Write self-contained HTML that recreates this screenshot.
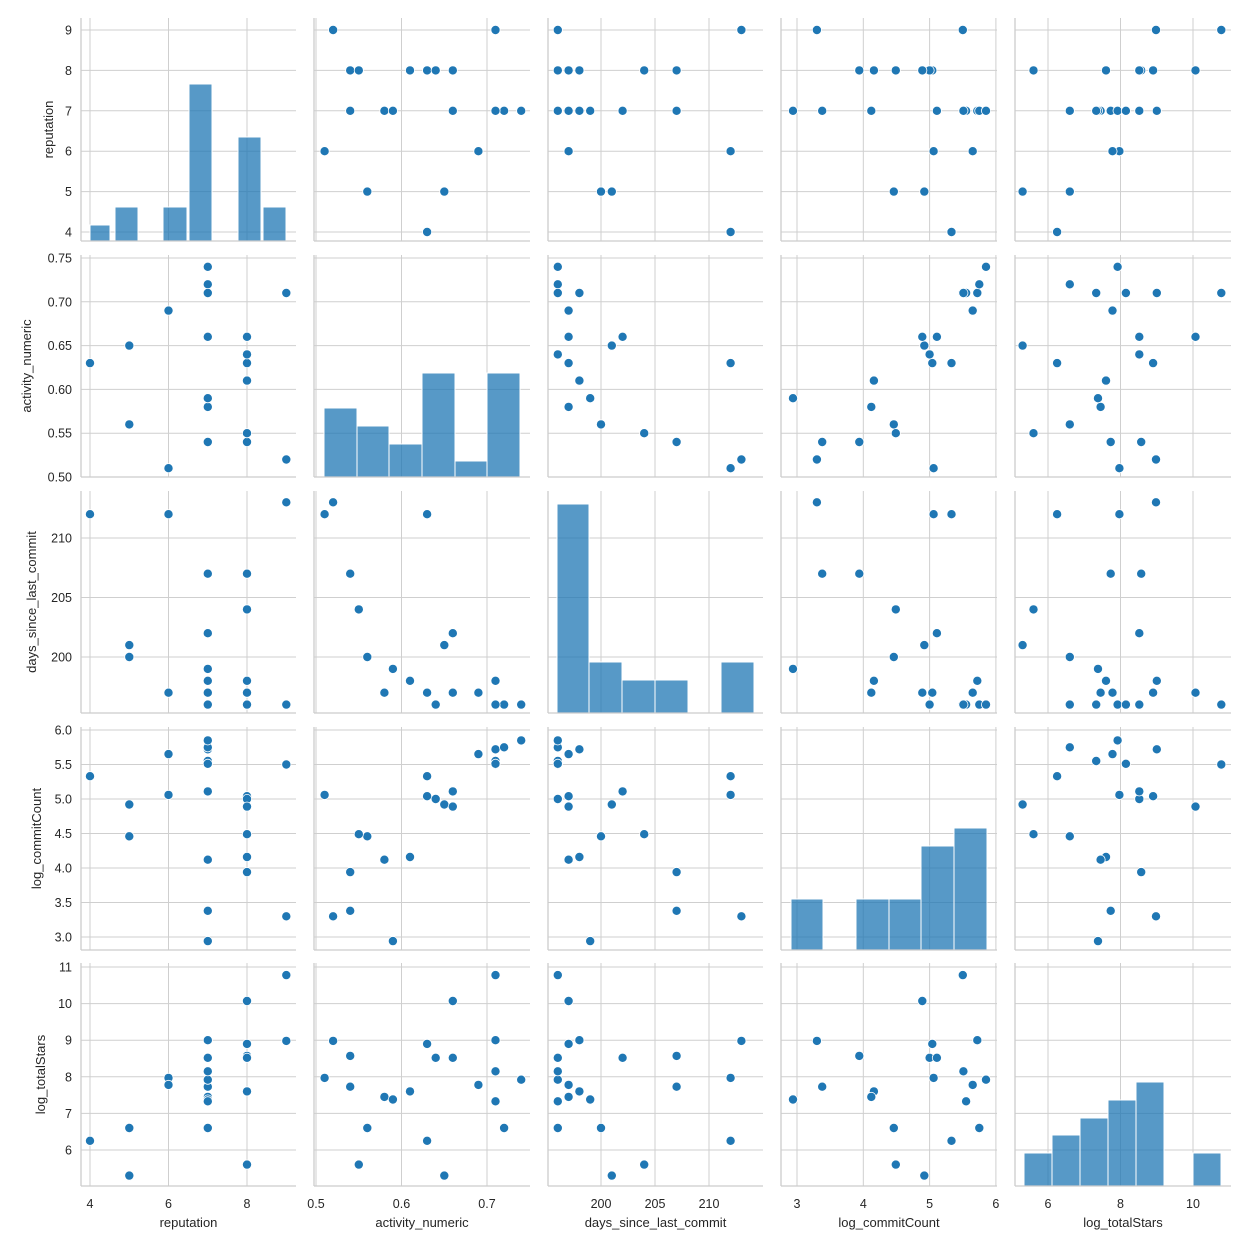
<!DOCTYPE html>
<html><head><meta charset="utf-8"><style>
body{margin:0;background:#fff}
svg{display:block;font-family:"Liberation Sans","DejaVu Sans",sans-serif}
</style></head><body>
<svg id="s" width="1250" height="1250" viewBox="0 0 1250 1250" xmlns="http://www.w3.org/2000/svg"></svg>
<script>
const D=[
[9,.52,213,3.30,8.98],[9,.71,196,5.50,10.78],[6,.51,212,5.06,7.97],[6,.69,197,5.65,7.78],
[5,.65,201,4.92,5.30],[5,.56,200,4.46,6.60],[4,.63,212,5.33,6.25],[8,.54,207,3.94,8.57],
[8,.55,204,4.49,5.60],[8,.61,198,4.16,7.60],[8,.63,197,5.04,8.90],[8,.64,196,5.00,8.52],
[8,.66,197,4.89,10.07],[7,.54,207,3.38,7.73],[7,.58,197,4.12,7.45],[7,.59,199,2.94,7.38],
[7,.66,202,5.11,8.52],[7,.71,198,5.72,9.00],[7,.71,196,5.55,7.33],[7,.72,196,5.75,6.60],
[7,.74,196,5.85,7.92],[7,.71,196,5.51,8.15]];
const names=["reputation","activity_numeric","days_since_last_commit","log_commitCount","log_totalStars"];
const LX=[48,26,31,36,40];
const PX=[[81,296],[314,530],[548,763],[781,997],[1015,1231]];
const PY=[[18,241],[255,477],[491,713],[727,950],[963,1186]];
const fx=[v=>90+(v-4)*39.25,v=>316+(v-.5)*855,v=>601+(v-200)*10.8,v=>797+(v-3)*66.3,v=>1048+(v-6)*36.25];
const fy=[v=>232-(v-4)*40.4,v=>477-(v-.5)*876,v=>657-(v-200)*11.9,v=>937-(v-3)*69,v=>1150-(v-6)*36.6];
const xt=[[4,6,8],[.5,.6,.7],[200,205,210],[3,4,5,6],[6,8,10]];
const xtl=[["4","6","8"],["0.5","0.6","0.7"],["200","205","210"],["3","4","5","6"],["6","8","10"]];
const yt=[[4,5,6,7,8,9],[.5,.55,.6,.65,.7,.75],[200,205,210],[3,3.5,4,4.5,5,5.5,6],[6,7,8,9,10,11]];
const ytl=[["4","5","6","7","8","9"],["0.50","0.55","0.60","0.65","0.70","0.75"],["200","205","210"],["3.0","3.5","4.0","4.5","5.0","5.5","6.0"],["6","7","8","9","10","11"]];
const H=[
[[90,110,225],[115,138,207],[163,187,207],[189,212,84],[238,261,137],[263,286,207]],
[[324,357,408],[357,389,426],[389,422,444],[422,455,373],[455,487,461],[487,520,373]],
[[557,589,504],[589,622,662],[622,655,680],[655,688,680],[721,754,662]],
[[791,823,899],[856,889,899],[889,921,899],[921,954,846],[954,987,828]],
[[1024,1052,1153],[1052,1080,1135],[1080,1108,1118],[1108,1136,1100],[1136,1164,1082],[1193,1221,1153]]];
let o="";
for(let r=0;r<5;r++)for(let c=0;c<5;c++){
 const [x0,x1]=PX[c],[y0,y1]=PY[r];
 for(const t of xt[c]){const x=fx[c](t);o+=`<line x1="${x}" x2="${x}" y1="${y0}" y2="${y1}" stroke="#cfcfcf" stroke-width="1"/>`;}
 for(const t of yt[r]){const y=fy[r](t);o+=`<line x1="${x0}" x2="${x1}" y1="${y}" y2="${y}" stroke="#cfcfcf" stroke-width="1"/>`;}
 if(r==c)for(const b of H[r])o+=`<rect x="${b[0]}" y="${b[2]}" width="${b[1]-b[0]}" height="${y1-b[2]}" fill="#1f77b4" fill-opacity="0.75" stroke="#fff" stroke-width="1"/>`;
 o+=`<line x1="${x0}" x2="${x0}" y1="${y0}" y2="${y1}" stroke="#cccccc" stroke-width="1.3"/><line x1="${x0}" x2="${x1}" y1="${y1}" y2="${y1}" stroke="#cccccc" stroke-width="1.3"/>`;
 if(r!=c)for(const d of D)o+=`<circle cx="${fx[c](d[c]).toFixed(1)}" cy="${fy[r](d[r]).toFixed(1)}" r="4.6" fill="#1f77b4" stroke="#fff" stroke-width="0.8"/>`;
}
for(let r=0;r<5;r++){
 yt[r].forEach((t,i)=>{o+=`<text x="72" y="${fy[r](t)+4.5}" text-anchor="end" font-size="12.5" fill="#262626">${ytl[r][i]}</text>`;});
 const cy=(PY[r][0]+PY[r][1])/2;
 o+=`<text transform="translate(${LX[r]+5},${cy}) rotate(-90)" text-anchor="middle" font-size="13" fill="#262626">${names[r]}</text>`;
}
for(let c=0;c<5;c++){
 xt[c].forEach((t,i)=>{o+=`<text x="${fx[c](t)}" y="1208" text-anchor="middle" font-size="12.5" fill="#262626">${xtl[c][i]}</text>`;});
 o+=`<text x="${(PX[c][0]+PX[c][1])/2}" y="1227" text-anchor="middle" font-size="13" fill="#262626">${names[c]}</text>`;
}
document.getElementById("s").innerHTML=o;
</script>
</body></html>
